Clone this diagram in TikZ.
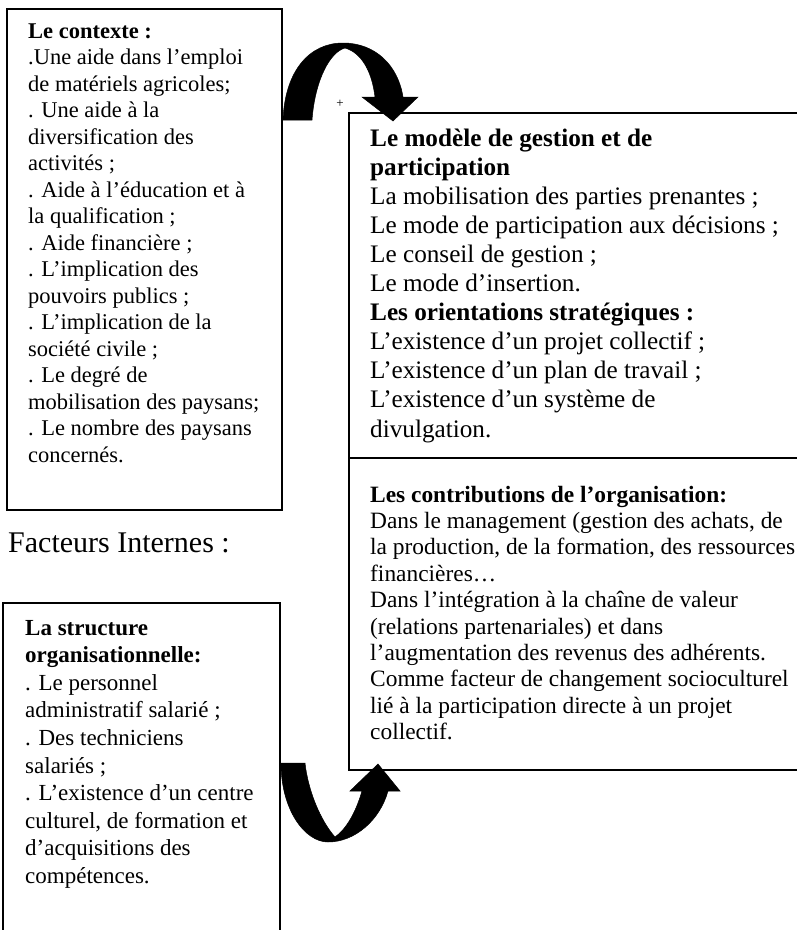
\documentclass[tikz,border=0pt]{standalone}
\usepackage{fontspec}
\setmainfont{Liberation Serif}
\begin{document}
\begin{tikzpicture}[x=1pt,y=-1pt,
  frame/.style={draw=black, line width=1.5pt},
  txt/.style={anchor=base west, inner sep=0pt},
  blockarrow/.style={fill=black, draw=black, line width=0.5pt}]
\useasboundingbox (0,0) rectangle (797,930);
\fill[white] (0,0) rectangle (797,930);

% left top box (context)
\draw[frame] (7,9) rectangle (282,510);
\node[txt] (ctx) at (28,38) {\parbox[t]{260pt}{\fontsize{22.5}{26.5}\selectfont\raggedright
\textbf{Le contexte :}\\
.Une aide dans l’emploi\\
de matériels agricoles;\\
. Une aide à la\\
diversification des\\
activités ;\\
. Aide à l’éducation et à\\
la qualification ;\\
. Aide financière ;\\
. L’implication des\\
pouvoirs publics ;\\
. L’implication de la\\
société civile ;\\
. Le degré de\\
mobilisation des paysans;\\
. Le nombre des paysans\\
concernés.}};

% right box
\draw[frame] (810,113) -- (349,113) -- (349,770) -- (810,770);
\draw[frame] (349,458) -- (810,458);
\node[txt] (model) at (370,146) {\parbox[t]{430pt}{\fontsize{25.2}{29.1}\selectfont\raggedright
\textbf{Le modèle de gestion et de}\\
\textbf{participation}\\
La mobilisation des parties prenantes ;\\
Le mode de participation aux décisions ;\\
Le conseil de gestion ;\\
Le mode d’insertion.\\
\textbf{Les orientations stratégiques :}\\
L’existence d’un projet collectif ;\\
L’existence d’un plan de travail ;\\
L’existence d’un système de\\
divulgation.}};
\node[txt] (contrib) at (370,502) {\parbox[t]{430pt}{\fontsize{23.4}{26.4}\selectfont\raggedright
\textbf{Les contributions de l’organisation:}\\
Dans le management (gestion des achats, de\\
la production, de la formation, des ressources\\
financières…\\
Dans l’intégration à la chaîne de valeur\\
(relations partenariales) et dans\\
l’augmentation des revenus des adhérents.\\
Comme facteur de changement socioculturel\\
lié à la participation directe à un projet\\
collectif.}};

% Facteurs internes
\node[txt] (fi) at (8,552) {\fontsize{30}{34}\selectfont Facteurs Internes :};

% left bottom box (structure)
\draw[frame] (280,940) -- (280,603) -- (3,603) -- (3,940);
\node[txt] (struct) at (25,635) {\parbox[t]{255pt}{\fontsize{23}{27.6}\selectfont\raggedright
\textbf{La structure}\\
\textbf{organisationnelle:}\\
. Le personnel\\
administratif salarié ;\\
. Des techniciens\\
salariés ;\\
. L’existence d’un centre\\
culturel, de formation et\\
d’acquisitions des\\
compétences.}};

% top curved arrow
\fill[blockarrow] (283,120) .. controls (285,70) and (310,43) .. (343,43)
  .. controls (375,43) and (398,65) .. (403,97)
  -- (418,97) -- (393,121) -- (362,97) -- (375,97)
  .. controls (372,72) and (362,53) .. (345,48)
  .. controls (330,52) and (315,80) .. (312,120) -- cycle;
\node[inner sep=0pt] (plus) at (340,104) {\fontsize{13}{13}\selectfont +};

% bottom curved arrow
\fill[blockarrow] (281,763) .. controls (281,810) and (305,842) .. (328,842)
  .. controls (355,842) and (380,820) .. (388,791)
  -- (400,791) -- (378,764) -- (350,791) -- (362,791)
  .. controls (355,815) and (345,830) .. (335,837)
  .. controls (320,820) and (308,790) .. (305,763) -- cycle;
\end{tikzpicture}
\end{document}
